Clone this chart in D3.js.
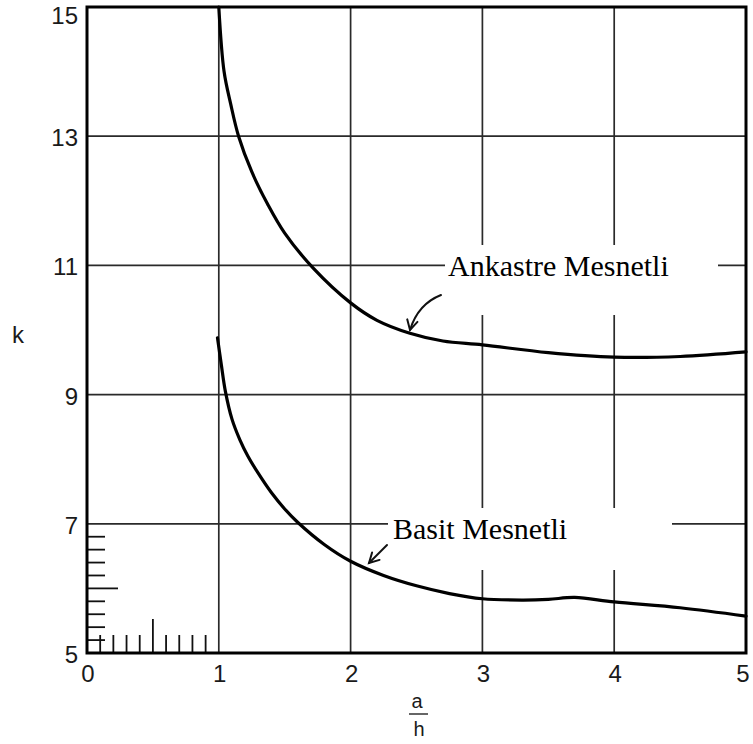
<!DOCTYPE html>
<html>
<head>
<meta charset="utf-8">
<script src="https://cdn.jsdelivr.net/npm/d3@7"></script>
<style>
  html, body { margin: 0; padding: 0; background: #fff; }
  svg { display: block; }
</style>
</head>
<body>
<svg id="chart" width="753" height="744"></svg>
<script>
// a/h ratio versus buckling coefficient k for two support conditions
const xTicks = [0, 1, 2, 3, 4, 5];
const yTicks = [5, 7, 9, 11, 13, 15];
const xMinor = [0.1, 0.2, 0.3, 0.4, 0.5, 0.6, 0.7, 0.8, 0.9];
const yMinor = [5.2, 5.4, 5.6, 5.8, 6.0, 6.2, 6.4, 6.6, 6.8];

// Clamped edges (Ankastre Mesnetli)
const ankastre = [
  [1.00, 15.0], [1.04, 14.0], [1.09, 13.5], [1.15, 13.0], [1.25, 12.45],
  [1.37, 11.95], [1.5, 11.5], [1.72, 10.95], [2.0, 10.42], [2.2, 10.15],
  [2.45, 9.95], [2.7, 9.83], [3.0, 9.77], [3.5, 9.65], [4.0, 9.58],
  [4.5, 9.59], [5.0, 9.66]
];
// Simply supported edges (Basit Mesnetli)
const basit = [
  [0.99, 9.88], [1.02, 9.45], [1.05, 9.05], [1.1, 8.62], [1.16, 8.3],
  [1.22, 8.05], [1.3, 7.78], [1.4, 7.48], [1.5, 7.23], [1.6, 7.02],
  [1.8, 6.68], [2.0, 6.42], [2.25, 6.2], [2.5, 6.04], [2.75, 5.92],
  [3.0, 5.84], [3.3, 5.82], [3.5, 5.83], [3.7, 5.86], [4.0, 5.79],
  [4.5, 5.7], [5.0, 5.57]
];

const svg = d3.select("#chart");
const x = d3.scaleLinear().domain([0, 5]).range([87, 746]);
const y = d3.scaleLinear().domain([5, 15]).range([653, 7]);

const tickFont = "'Liberation Sans', Arial, sans-serif";
const labelFont = "'Liberation Serif', 'Times New Roman', serif";

// grid
const grid = svg.append("g").attr("stroke", "#2a2a2a").attr("stroke-width", 1.7);
grid.selectAll("line.v").data(xTicks.slice(1, -1)).join("line")
  .attr("x1", d => x(d)).attr("x2", d => x(d))
  .attr("y1", y(15)).attr("y2", y(5));
grid.selectAll("line.h").data(yTicks.slice(1, -1)).join("line")
  .attr("x1", x(0)).attr("x2", x(5))
  .attr("y1", d => y(d)).attr("y2", d => y(d));

// minor ticks in the lower-left corner
const minor = svg.append("g").attr("stroke", "#111").attr("stroke-width", 1.8);
minor.selectAll("line.mx").data(xMinor).join("line")
  .attr("x1", d => x(d)).attr("x2", d => x(d))
  .attr("y1", y(5)).attr("y2", d => y(5) - (Math.abs(d - 0.5) < 1e-9 ? 34 : 18));
minor.selectAll("line.my").data(yMinor).join("line")
  .attr("y1", d => y(d)).attr("y2", d => y(d))
  .attr("x1", x(0)).attr("x2", d => x(0) + (Math.abs(d - 6.0) < 1e-9 ? 31 : 18));

// white label panels that interrupt the grid
svg.append("rect").attr("x", 445).attr("y", 245).attr("width", 273).attr("height", 70).attr("fill", "#fff");
svg.append("rect").attr("x", 388).attr("y", 508).attr("width", 284).attr("height", 62).attr("fill", "#fff");

// frame
svg.append("rect")
  .attr("x", x(0)).attr("y", y(15))
  .attr("width", x(5) - x(0)).attr("height", y(5) - y(15))
  .attr("fill", "none").attr("stroke", "#000").attr("stroke-width", 3);

// curves
const line = d3.line().x(d => x(d[0])).y(d => y(d[1])).curve(d3.curveCatmullRom.alpha(0.5));
[ankastre, basit].forEach(s => {
  svg.append("path").datum(s).attr("d", line)
    .attr("fill", "none").attr("stroke", "#000").attr("stroke-width", 3.2)
    .attr("stroke-linecap", "round");
});

// tick labels
svg.append("g").selectAll("text").data(yTicks).join("text")
  .attr("x", 78).attr("y", d => Math.max(y(d) + 10, 24))
  .attr("text-anchor", "end")
  .attr("font-family", tickFont).attr("font-size", 24).attr("fill", "#1a1a1a")
  .text(d => d);
svg.append("g").selectAll("text").data(xTicks).join("text")
  .attr("x", d => x(d) + (d === 5 ? -3 : 1)).attr("y", 682)
  .attr("text-anchor", "middle")
  .attr("font-family", tickFont).attr("font-size", 24).attr("fill", "#1a1a1a")
  .text(d => d);

// axis titles
svg.append("text").attr("x", 18).attr("y", 343).attr("text-anchor", "middle")
  .attr("font-family", tickFont).attr("font-size", 24).attr("fill", "#1a1a1a").text("k");
svg.append("text").attr("x", 417).attr("y", 708).attr("text-anchor", "middle")
  .attr("font-family", tickFont).attr("font-size", 20).attr("fill", "#1a1a1a").text("a");
svg.append("line").attr("x1", 409).attr("x2", 428).attr("y1", 714).attr("y2", 714)
  .attr("stroke", "#333").attr("stroke-width", 1.5);
svg.append("text").attr("x", 419).attr("y", 736).attr("text-anchor", "middle")
  .attr("font-family", tickFont).attr("font-size", 20).attr("fill", "#1a1a1a").text("h");

// curve labels
svg.append("text").attr("x", 448).attr("y", 276)
  .attr("font-family", labelFont).attr("font-size", 30).attr("fill", "#000")
  .text("Ankastre Mesnetli");
svg.append("text").attr("x", 393).attr("y", 539)
  .attr("font-family", labelFont).attr("font-size", 30).attr("fill", "#000")
  .text("Basit Mesnetli");

// leader arrows
function arrowHead(tipX, tipY, fromX, fromY) {
  const a = Math.atan2(tipY - fromY, tipX - fromX);
  const len = 11, spread = 0.5;
  const p1 = [tipX - len * Math.cos(a - spread), tipY - len * Math.sin(a - spread)];
  const p2 = [tipX - len * Math.cos(a + spread), tipY - len * Math.sin(a + spread)];
  return `M${p1[0]},${p1[1]}L${tipX},${tipY}L${p2[0]},${p2[1]}`;
}
const arrows = svg.append("g").attr("fill", "none").attr("stroke", "#111")
  .attr("stroke-width", 2).attr("stroke-linecap", "round");
arrows.append("path").attr("d", "M441,295 Q418,304 410,330");
arrows.append("path").attr("d", arrowHead(410, 330, 413, 318));
arrows.append("path").attr("d", "M387,545 L369,563");
arrows.append("path").attr("d", arrowHead(369, 563, 387, 545));
</script>
</body>
</html>
